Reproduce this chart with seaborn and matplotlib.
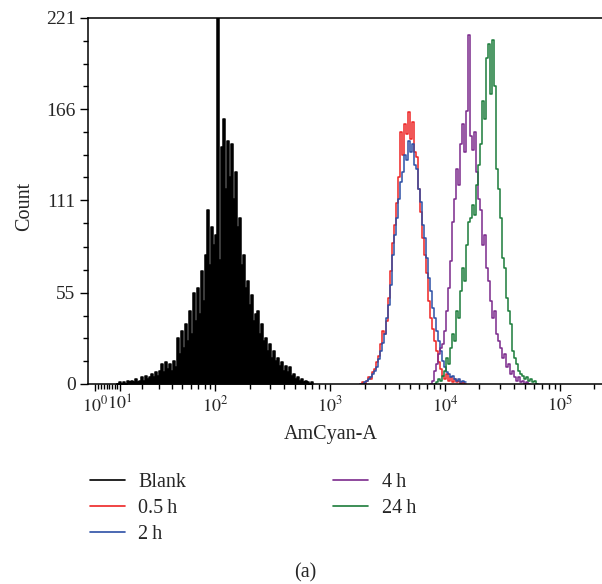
import numpy as np
import pandas as pd
import matplotlib
matplotlib.use("Agg")
import matplotlib.pyplot as plt
import seaborn as sns
from matplotlib.lines import Line2D
from matplotlib.ticker import FixedLocator, FixedFormatter, NullFormatter

# ---------------- data ----------------
series_names = ["Blank", "0.5\u2009h", "2\u2009h", "4\u2009h", "24\u2009h"]
series_colors = ["#000000", "#ee2424", "#2c4fa6", "#7b2a8c", "#1b7c3a"]

# channel range of each histogram (AmCyan-A units)
blank_range = (9.2, 700)
red_range = (1860, 14980)
blue_range = (1860, 14980)
purple_range = (7535, 53700)
green_range = (8160, 63020)

blank_counts = [0, 1, 0, 1, 0, 2, 1, 2, 1, 3,
                1, 2, 4, 2, 5, 3, 4, 6, 4, 7,
                5, 8, 12, 7, 13, 9, 12, 8, 14, 10,
                28, 18, 32, 22, 36, 26, 44, 30, 55, 38,
                58, 42, 68, 50, 78, 105, 72, 95, 84, 90,
                221, 75, 143, 160, 118, 147, 125, 145, 112, 128,
                95, 100, 72, 78, 58, 62, 48, 54, 38, 42,
                44, 30, 36, 26, 28, 20, 24, 16, 20, 14,
                16, 11, 13, 8, 11, 7, 10, 5, 6, 3,
                4, 2, 3, 1, 2, 1, 0, 1]
red_counts = [0, 1, 0, 2, 4, 3, 7, 9, 13, 17,
              24, 32, 30, 38, 52, 68, 85, 96, 109, 125,
              152, 138, 157, 151, 164, 148, 158, 140, 137, 118,
              104, 88, 78, 67, 50, 40, 33, 26, 20, 13,
              9, 5, 3, 6, 2, 4, 1, 3, 1, 2,
              0, 1, 0]
blue_counts = [0, 0, 1, 2, 3, 4, 6, 8, 10, 15,
               20, 25, 30, 40, 48, 60, 78, 90, 100, 112,
               122, 128, 138, 135, 147, 140, 145, 132, 130, 118,
               110, 96, 88, 76, 64, 56, 46, 40, 32, 26,
               20, 14, 10, 7, 6, 4, 5, 3, 2, 3,
               1, 2, 1]
purple_counts = [0, 2, 8, 12, 18, 22, 24, 32, 44, 58,
                 74, 98, 112, 130, 120, 145, 157, 140, 165, 211,
                 150, 141, 152, 128, 112, 105, 84, 90, 70, 62,
                 50, 40, 44, 30, 26, 22, 16, 18, 10, 12,
                 6, 8, 4, 2, 4, 1, 2, 0, 1, 0]
green_counts = [0, 1, 3, 2, 5, 8, 16, 12, 22, 30,
                26, 44, 40, 56, 70, 62, 84, 98, 100, 108,
                102, 120, 132, 145, 171, 160, 197, 205, 175, 208,
                180, 130, 118, 100, 76, 70, 52, 44, 36, 20,
                16, 12, 8, 6, 5, 3, 4, 2, 3, 1,
                2, 0]

y_ticks = [0, 55, 111, 166, 221]
x_ticks = [1, 10, 100, 1000, 10000, 100000]
x_tick_labels = ["$10^{0}$", "$10^{1}$", "$10^{2}$", "$10^{3}$", "$10^{4}$", "$10^{5}$"]

# ---------------- style ----------------
sns.set_style("ticks")
plt.rcParams["font.family"] = ["Liberation Serif", "DejaVu Serif"]
plt.rcParams["mathtext.fontset"] = "stix"

W = 17  # linear width of the asinh (biexponential-like) axis


def bins_for(rng, n):
    lo, hi = rng
    g = np.linspace(np.arcsinh(lo / W), np.arcsinh(hi / W), n)
    step = g[1] - g[0]
    ge = np.append(g - step / 2, g[-1] + step / 2)
    return W * np.sinh(g), (W * np.sinh(ge)).tolist()


fig = plt.figure(figsize=(6.02, 5.84), dpi=100)
ax = fig.add_axes([88 / 602, 1 - 384 / 584, 1 - 88 / 602, (384 - 18) / 584])

all_series = [
    (blank_range, blank_counts, True),
    (red_range, red_counts, False),
    (blue_range, blue_counts, False),
    (purple_range, purple_counts, False),
    (green_range, green_counts, False),
]
for (rng, counts, filled), col in zip(all_series, series_colors):
    centers, edges = bins_for(rng, len(counts))
    df = pd.DataFrame({"signal": centers, "count": np.asarray(counts, dtype=float)})
    sns.histplot(data=df, x="signal", weights="count", bins=edges, element="step",
                 fill=filled, color=col, alpha=1, linewidth=1.1, ax=ax)

ax.set_xscale("asinh", linear_width=W)
ax.set_xlim(-1.4, 2.33e5)
ax.set_ylim(0, 221)
ax.set_xlabel("")
ax.set_ylabel("")

ax.xaxis.set_major_locator(FixedLocator(x_ticks))
ax.xaxis.set_major_formatter(FixedFormatter(x_tick_labels))
x_minor = [k * 10 ** p for p in range(0, 6) for k in range(2, 10) if k * 10 ** p < 2.33e5]
ax.xaxis.set_minor_locator(FixedLocator(x_minor))
ax.xaxis.set_minor_formatter(NullFormatter())

ax.yaxis.set_major_locator(FixedLocator(y_ticks))
y_minor = []
for a, b in zip(y_ticks[:-1], y_ticks[1:]):
    y_minor += list(np.linspace(a, b, 5)[1:-1])
ax.yaxis.set_minor_locator(FixedLocator(y_minor))
ax.yaxis.set_minor_formatter(NullFormatter())

ax.tick_params(which="major", direction="out", length=6, width=1.0, color="black",
               labelsize=14, pad=3)
ax.tick_params(which="minor", direction="out", length=3.5, width=1.0, color="black")
ax.tick_params(axis="x", which="major", length=5, labelsize=13)

ax.spines["right"].set_visible(False)
for s in ["left", "bottom", "top"]:
    ax.spines[s].set_linewidth(1.1)
    ax.spines[s].set_color("black")

fig.text(25 / 602, 1 - 206 / 584, "Count", rotation=90, ha="center", va="center", fontsize=14.5)
fig.text(331 / 602, 1 - 435 / 584, "AmCyan-A", ha="center", va="center", fontsize=14.5)
fig.text(305 / 602, 1 - 573 / 584, "(a)", ha="center", va="center", fontsize=14.5)

handles = [Line2D([], [], color=c, lw=1.2) for c in series_colors]
fig.legend(handles, series_names, ncol=2, loc="upper left",
           bbox_to_anchor=(90 / 602, 1 - 473 / 584), frameon=False, fontsize=14.5,
           handlelength=1.75, handletextpad=0.65, columnspacing=7.3,
           borderpad=0, borderaxespad=0, labelspacing=0.35)

fig.savefig("out.png", dpi=100)
